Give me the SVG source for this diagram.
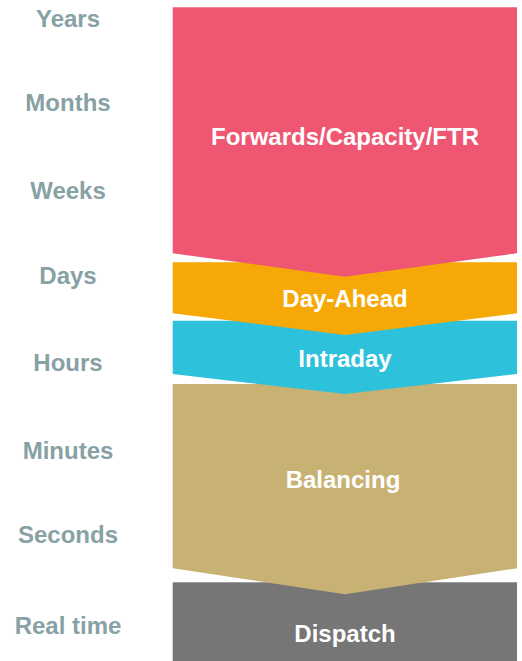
<svg xmlns="http://www.w3.org/2000/svg" width="522" height="661" viewBox="0 0 522 661">
  <style>
    .scale { font-family: "Liberation Sans", Arial, sans-serif; font-weight: bold; font-size: 24px; fill: #87A1A4; text-anchor: middle; }
    .band { font-family: "Liberation Sans", Arial, sans-serif; font-weight: bold; font-size: 24px; fill: #FFFFFF; text-anchor: middle; }
  </style>
  <rect width="522" height="661" fill="#FFFFFF"/>

  <!-- time scale on the left -->
  <g id="time-scale">
    <text class="scale" x="68" y="27">Years</text>
    <text class="scale" x="68" y="111">Months</text>
    <text class="scale" x="68" y="199">Weeks</text>
    <text class="scale" x="68" y="284">Days</text>
    <text class="scale" x="68" y="371">Hours</text>
    <text class="scale" x="68" y="459">Minutes</text>
    <text class="scale" x="68" y="543">Seconds</text>
    <text class="scale" x="68" y="634">Real time</text>
  </g>

  <!-- market stages, stacked bottom-up so each chevron overlaps the next -->
  <g id="dispatch">
    <rect x="172.7" y="582.3" width="344.3" height="78.7" fill="#767676"/>
    <text class="band" x="345" y="642">Dispatch</text>
  </g>
  <g id="balancing">
    <path d="M172.7,384 H517 V568.3 L345,594.3 L172.7,568.3 Z" fill="#C8B273"/>
    <text class="band" x="343" y="488">Balancing</text>
  </g>
  <g id="intraday">
    <path d="M172.7,320.7 H517 V374 L345,394 L172.7,374 Z" fill="#2EC1DB"/>
    <text class="band" x="345" y="367">Intraday</text>
  </g>
  <g id="day-ahead">
    <path d="M172.7,262.3 H517 V313.3 L345,335 L172.7,313.3 Z" fill="#F6A906"/>
    <text class="band" x="345" y="307">Day-Ahead</text>
  </g>
  <g id="forwards">
    <path d="M172.7,7.3 H517 V253.3 L345,276.7 L172.7,253.3 Z" fill="#EF5671"/>
    <text class="band" x="345" y="145">Forwards/Capacity/FTR</text>
  </g>

  <g id="connectors"/>
</svg>
